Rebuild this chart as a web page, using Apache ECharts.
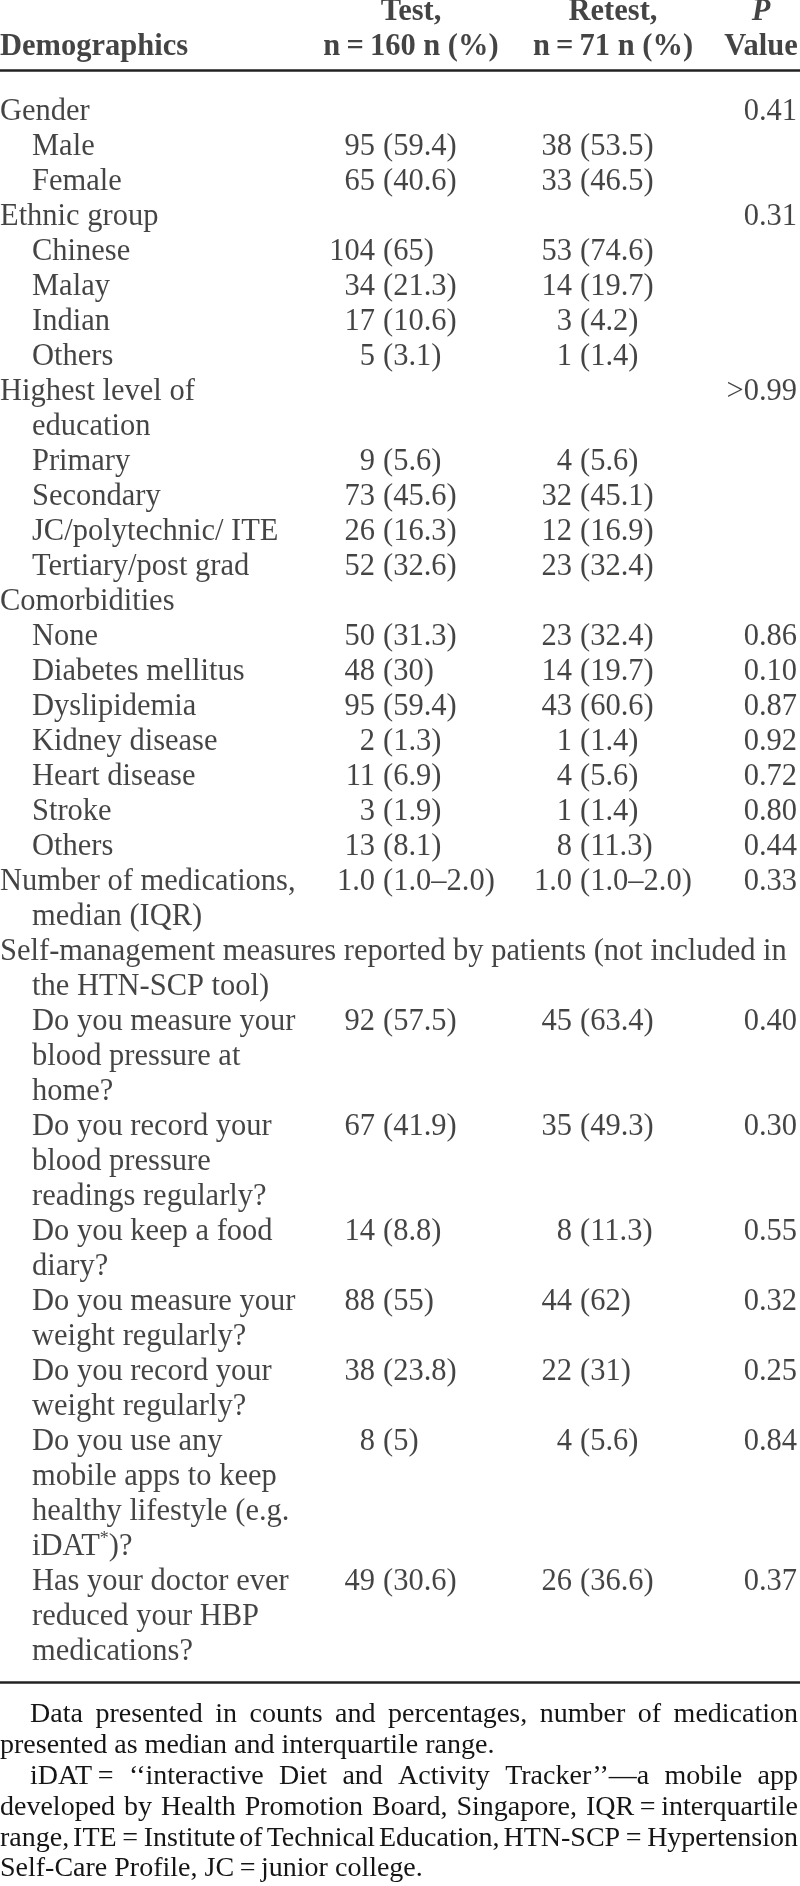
<!DOCTYPE html>
<html>
<head>
<meta charset="utf-8">
<script src="https://cdn.jsdelivr.net/npm/echarts@6/dist/echarts.min.js"></script>
<style>
html,body{margin:0;padding:0;background:#fff;}
#c{width:800px;height:1886px;}
</style>
</head>
<body>
<div id="c"></div>
<script>
// ---------------- DATA ----------------
const headerTop = ['', 'Test,', 'Retest,', 'P'];
const headerBottom = ['Demographics', 'n\u2009=\u2009160 n (%)', 'n\u2009=\u200971 n (%)', 'Value'];

const categories = [
  'Gender', 'Male', 'Female',
  'Ethnic group', 'Chinese', 'Malay', 'Indian', 'Others',
  'Highest level of\neducation', 'Primary', 'Secondary', 'JC/polytechnic/ ITE', 'Tertiary/post grad',
  'Comorbidities', 'None', 'Diabetes mellitus', 'Dyslipidemia', 'Kidney disease', 'Heart disease', 'Stroke', 'Others',
  'Number of medications,\nmedian (IQR)',
  'Self-management measures reported by patients (not included in\nthe HTN-SCP tool)',
  'Do you measure your\nblood pressure at\nhome?',
  'Do you record your\nblood pressure\nreadings regularly?',
  'Do you keep a food\ndiary?',
  'Do you measure your\nweight regularly?',
  'Do you record your\nweight regularly?',
  'Do you use any\nmobile apps to keep\nhealthy lifestyle (e.g.\niDAT{sup|*})?',
  'Has your doctor ever\nreduced your HBP\nmedications?'
];
const levels = [0,1,1, 0,1,1,1,1, 0,1,1,1,1, 0,1,1,1,1,1,1,1, 0, 0, 1,1,1,1,1,1,1];

const testCount   = ['', '95','65', '', '104','34','17','5', '', '9','73','26','52', '', '50','48','95','2','11','3','13', '1.0', '', '92','67','14','88','38','8','49'];
const testPct     = ['', '59.4','40.6', '', '65','21.3','10.6','3.1', '', '5.6','45.6','16.3','32.6', '', '31.3','30','59.4','1.3','6.9','1.9','8.1', '1.0\u20132.0', '', '57.5','41.9','8.8','55','23.8','5','30.6'];
const retestCount = ['', '38','33', '', '53','14','3','1', '', '4','32','12','23', '', '23','14','43','1','4','1','8', '1.0', '', '45','35','8','44','22','4','26'];
const retestPct   = ['', '53.5','46.5', '', '74.6','19.7','4.2','1.4', '', '5.6','45.1','16.9','32.4', '', '32.4','19.7','60.6','1.4','5.6','1.4','11.3', '1.0\u20132.0', '', '63.4','49.3','11.3','62','31','5.6','36.6'];
const pValues     = ['0.41','','', '0.31','','','','', '>0.99','','','','', '', '0.86','0.10','0.87','0.92','0.72','0.80','0.44', '0.33', '', '0.40','0.30','0.55','0.32','0.25','0.84','0.37'];

const footnotes = [
  ['Data presented in counts and percentages, number of medication',
   'presented as median and interquartile range.'],
  ['iDAT\u2009= \u2018\u2018interactive Diet and Activity Tracker\u2019\u2019\u2014a mobile app',
   'developed by Health Promotion Board, Singapore, IQR\u2009=\u2009interquartile',
   'range, ITE\u2009=\u2009Institute of Technical Education, HTN-SCP\u2009=\u2009Hypertension',
   'Self-Care Profile, JC\u2009=\u2009junior college.']
];

// ---------------- LAYOUT / STYLE ----------------
const FONT = "'Liberation Serif', 'Times New Roman', serif";
const FS = 30.5, FN_FS = 28;
const INK = '#151515';
const COL = { label: 0, indent: 32, testCount: 375, testPct: 383, retestCount: 572, retestPct: 580,
              pRight: 797, testHead: 411, retestHead: 613, pHead: 761 };
const HEAD_Y = [-2.86, -1.86];
const RULE_TOP = -1.2, RULE_BOTTOM = 44.86;
const FOOT_Y0 = 45.8, FOOT_STEP = 0.88;
const FOOT_INDENT = 30, FOOT_RIGHT = 798;

// ---------------- BUILD ----------------
const lineStart = [];
let acc = 0;
categories.forEach((c, i) => { lineStart.push(acc); acc += c.split('\n').length; });

const leftItems = [], rightItems = [], centerItems = [];
categories.forEach((c, i) => {
  const lines = c.split('\n');
  const L = lineStart[i];
  lines.forEach((t, j) => {
    const x = (levels[i] === 0 && j === 0) ? COL.label : COL.indent;
    leftItems.push({ value: [x, L + j], t: t });
  });
  if (testCount[i]) rightItems.push({ value: [COL.testCount, L], t: testCount[i] });
  if (testPct[i]) leftItems.push({ value: [COL.testPct, L], t: '(' + testPct[i] + ')' });
  if (retestCount[i]) rightItems.push({ value: [COL.retestCount, L], t: retestCount[i] });
  if (retestPct[i]) leftItems.push({ value: [COL.retestPct, L], t: '(' + retestPct[i] + ')' });
  if (pValues[i]) rightItems.push({ value: [COL.pRight, L], t: pValues[i] });
});

// header
leftItems.push({ value: [COL.label, HEAD_Y[1]], t: headerBottom[0], label: { fontWeight: 'bold' } });
[COL.testHead, COL.retestHead, COL.pHead].forEach((x, k) => {
  centerItems.push({ value: [x, HEAD_Y[0]], t: headerTop[k + 1],
    label: { fontWeight: 'bold', fontStyle: k === 2 ? 'italic' : 'normal' } });
  centerItems.push({ value: [x, HEAD_Y[1]], t: headerBottom[k + 1], label: { fontWeight: 'bold' } });
});

const baseLabel = {
  show: true, color: INK, fontFamily: FONT, fontSize: FS, lineHeight: 34,
  formatter: p => p.data.t,
  rich: { sup: { fontFamily: FONT, fontSize: 18, color: INK, verticalAlign: 'top', lineHeight: 16 } }
};

function textSeries(items, pos, align) {
  return {
    type: 'scatter', data: items, symbolSize: 0, silent: true, animation: false,
    label: Object.assign({}, baseLabel, { position: pos, distance: 0, align: align, verticalAlign: 'middle' }),
    emphasis: { disabled: true }
  };
}

const chart = echarts.init(document.getElementById('c'), null, { renderer: 'canvas', width: 800, height: 1886 });

const option = {
  backgroundColor: '#fff',
  animation: false,
  grid: { left: 0, right: 0, top: 0, bottom: 0, containLabel: false },
  xAxis: { type: 'value', min: 0, max: 800, show: false },
  yAxis: { type: 'value', min: -3.2, max: 1886 / 35 - 3.2, inverse: true, show: false },
  series: [
    textSeries(leftItems, 'right', 'left'),
    textSeries(rightItems, 'left', 'right'),
    textSeries(centerItems, 'inside', 'center'),
    {
      type: 'scatter', data: [], silent: true,
      markLine: {
        silent: true, symbol: ['none', 'none'], label: { show: false }, animation: false,
        lineStyle: { color: '#222', width: 2.5, type: 'solid' },
        data: [{ yAxis: RULE_TOP }, { yAxis: RULE_BOTTOM }]
      }
    }
  ]
};
chart.setOption(option);

// footnotes, justified
const ctx = document.createElement('canvas').getContext('2d');
ctx.font = FN_FS + 'px ' + FONT;
const graphics = [];
let k = 0;
footnotes.forEach(par => {
  par.forEach((line, j) => {
    const y = chart.convertToPixel({ yAxisIndex: 0 }, FOOT_Y0 + FOOT_STEP * k);
    const x0 = j === 0 ? FOOT_INDENT : 0;
    const last = j === par.length - 1;
    if (last) {
      graphics.push({ type: 'text', x: x0, y: y, silent: true,
        style: { text: line, fontSize: FN_FS, fontFamily: FONT, fill: INK, align: 'left', verticalAlign: 'middle' } });
    } else {
      const words = line.split(' ');
      const widths = words.map(w => ctx.measureText(w).width);
      const total = widths.reduce((a, b) => a + b, 0);
      const gap = (FOOT_RIGHT - x0 - total) / (words.length - 1);
      let x = x0;
      words.forEach((w, i) => {
        graphics.push({ type: 'text', x: x, y: y, silent: true,
          style: { text: w, fontSize: FN_FS, fontFamily: FONT, fill: INK, align: 'left', verticalAlign: 'middle' } });
        x += widths[i] + gap;
      });
    }
    k++;
  });
});
chart.setOption({ graphic: graphics });
</script>
</body>
</html>
